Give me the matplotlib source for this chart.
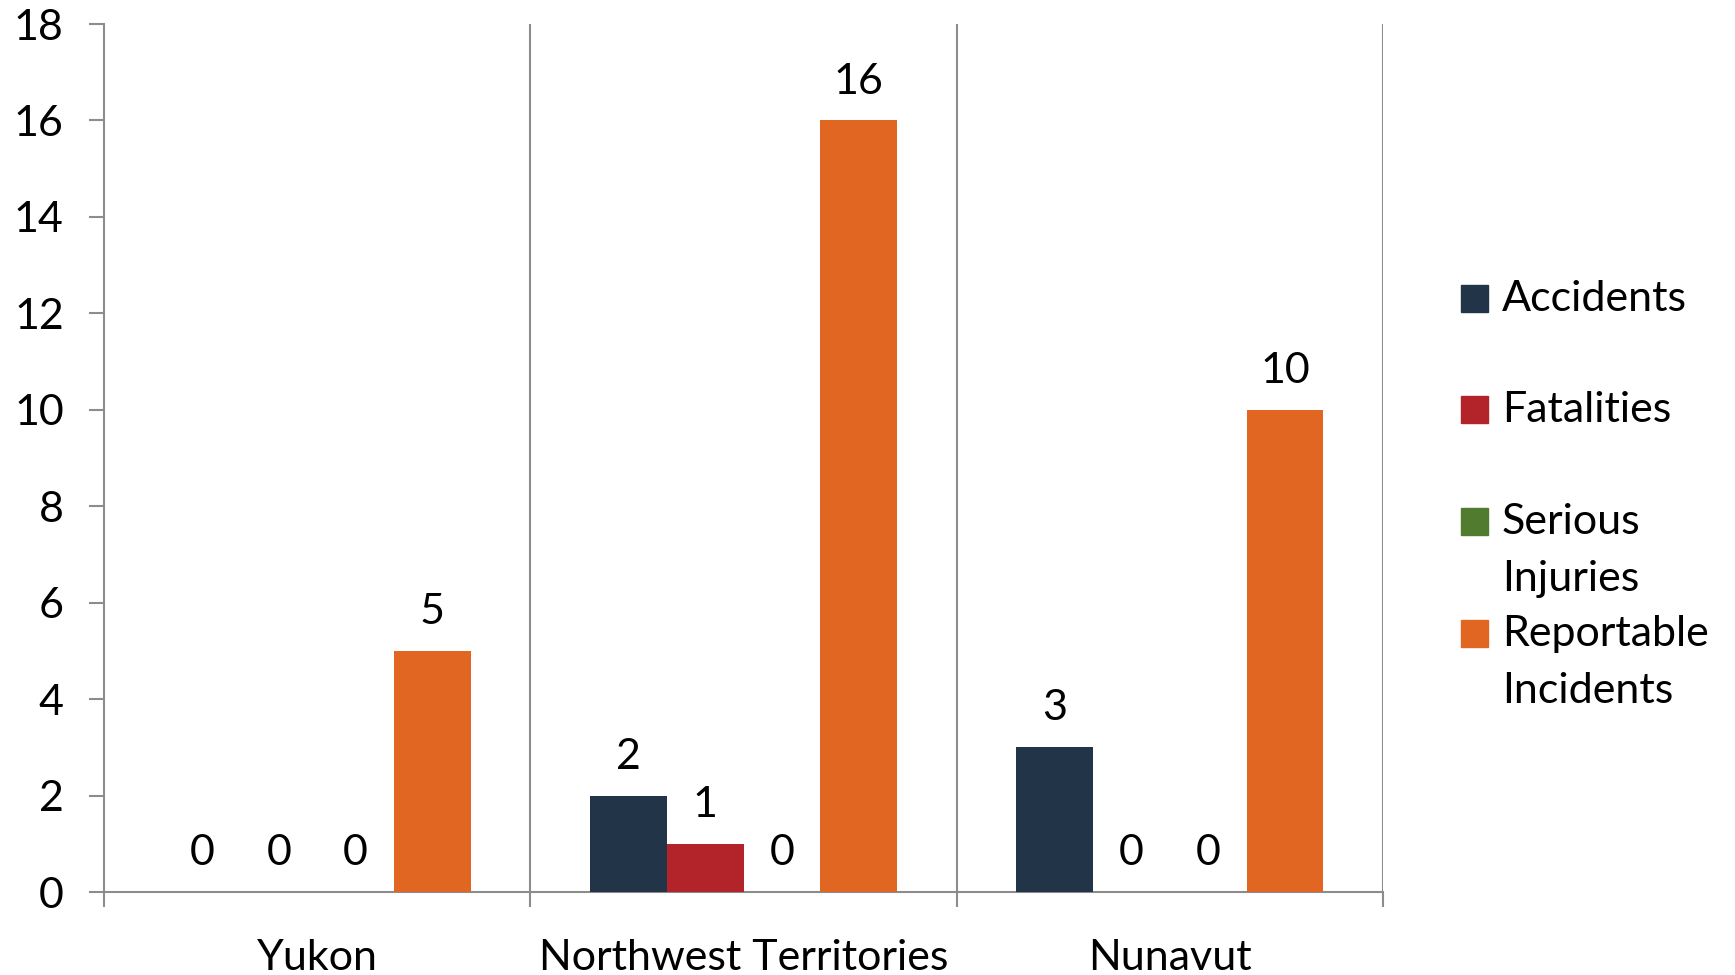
import numpy as np
import matplotlib.pyplot as plt
from matplotlib.patches import Rectangle

plt.rcParams['font.family'] = ['Lato', 'DejaVu Sans']

territories = ["Yukon", "Northwest Territories", "Nunavut"]
series = ["Accidents", "Fatalities", "Serious\nInjuries", "Reportable\nIncidents"]
accidents = [0, 2, 3]
fatalities = [0, 1, 0]
serious_injuries = [0, 0, 0]
reportable_incidents = [5, 16, 10]
colors = ["#223548", "#B2232A", "#517C2F", "#E06622"]

values = [accidents, fatalities, serious_injuries, reportable_incidents]
grey = "#8C8C8C"
fs = 31

W, H = 1735, 975
fig = plt.figure(figsize=(W / 100, H / 100), dpi=100)
ax = fig.add_axes([104 / W, 1 - 892 / H, (1383 - 104) / W, (892 - 24) / H])

x = np.arange(len(territories))
bw = 0.18
for i, vals in enumerate(values):
    pos = x + (i - 1.5) * bw
    ax.bar(pos, vals, width=bw, color=colors[i], zorder=3)
    for p, v in zip(pos, vals):
        ax.annotate(str(v), (p, v), xytext=(0, 28), textcoords="offset points",
                    ha="center", va="center", fontsize=fs)

ax.set_xlim(-0.5, 2.5)
ax.set_ylim(0, 18)
ax.set_yticks(range(0, 19, 2))

for b in [0.5, 1.5, 2.5]:
    ax.axvline(b, color=grey, lw=1.5, zorder=1)

ax.set_xticks([-0.5, 0.5, 1.5, 2.5])
ax.set_xticklabels([])
ax.set_xticks(x, minor=True)
ax.set_xticklabels(territories, minor=True)
ax.tick_params(axis="x", which="major", length=11, width=1.5, color=grey, direction="out")
ax.tick_params(axis="x", which="minor", length=0, pad=34, labelsize=fs)
ax.tick_params(axis="y", length=11, width=1.5, color=grey, direction="out", labelsize=fs, pad=18)

for s in ["top", "right"]:
    ax.spines[s].set_visible(False)
for s in ["left", "bottom"]:
    ax.spines[s].set_color(grey)
    ax.spines[s].set_linewidth(1.5)

# legend drawn by hand so the swatch lines up with the first text line
baselines = [311, 422, 534, 646]
for lab, c, yb in zip(series, colors, baselines):
    fig.patches.append(Rectangle((1461 / W, 1 - (yb + 1) / H), 27 / W, 27 / H,
                                 color=c, transform=fig.transFigure))
    for k, line in enumerate(lab.split("\n")):
        fig.text(1502 / W, 1 - (yb + 57 * k) / H, line, fontsize=fs,
                 va="baseline", ha="left")

fig.savefig("out.png", dpi=100)
